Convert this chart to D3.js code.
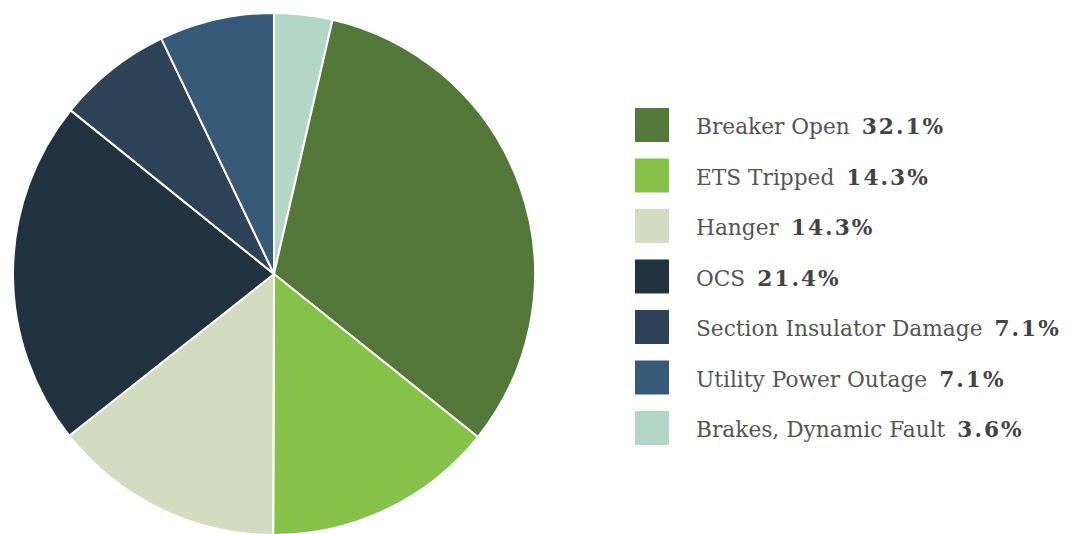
<!DOCTYPE html>
<html><head><meta charset="utf-8">
<script src="https://cdn.jsdelivr.net/npm/d3@7"></script>
<style>body{margin:0;background:#fff;}svg{display:block;}</style>
</head><body>
<svg id="chart" width="1074" height="534"></svg>
<script>
const categories = ["Breaker Open","ETS Tripped","Hanger","OCS","Section Insulator Damage","Utility Power Outage","Brakes, Dynamic Fault"];
const values = [32.1, 14.3, 14.3, 21.4, 7.1, 7.1, 3.6];
const valueLabels = ["32.1%","14.3%","14.3%","21.4%","7.1%","7.1%","3.6%"];
const colors = ["#53783a","#86c24a","#d3dcc0","#213341","#2f4358","#375a78","#b3d6c6"];
// pie drawing order (clockwise from 12 o'clock)
const pieOrder = [6,0,1,2,3,4,5];

const svg = d3.select("#chart");
const cx = 274, cy = 274, r = 261;
const pie = d3.pie().sort(null).value(i => values[i]);
const arc = d3.arc().innerRadius(0).outerRadius(r);
const g = svg.append("g").attr("transform",`translate(${cx},${cy})`);
g.selectAll("path").data(pie(pieOrder)).join("path")
  .attr("d", arc)
  .attr("fill", d => colors[d.data])
  .attr("stroke","#fff").attr("stroke-width",2);

const leg = svg.append("g").attr("transform","translate(635,108)");
const rowH = 50.5;
const rows = leg.selectAll("g").data(categories).join("g")
  .attr("transform",(d,i)=>`translate(0,${i*rowH})`);
rows.append("rect").attr("width",34).attr("height",34).attr("fill",(d,i)=>colors[i]);
const t = rows.append("text").attr("x",61).attr("y",26)
  .style("font-family","'DejaVu Serif', serif").style("font-size","21.7px");
t.append("tspan").attr("fill","#555").text(d=>d);
t.append("tspan").attr("dx",12).attr("fill","#444").style("font-weight","bold")
  .style("letter-spacing","2px").text((d,i)=>valueLabels[i]);
</script>
</body></html>
